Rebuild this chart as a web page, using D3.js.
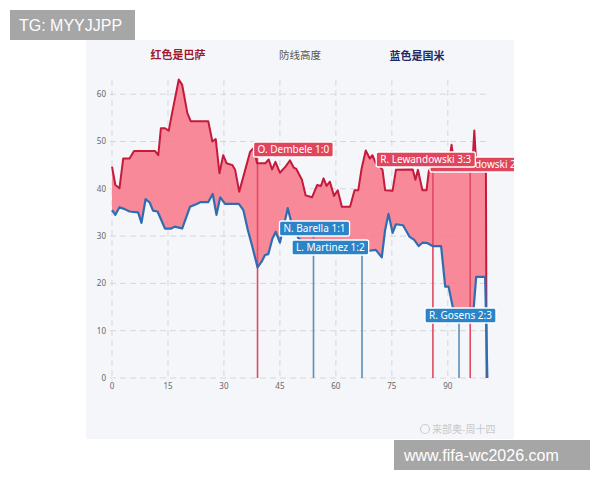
<!DOCTYPE html>
<html><head><meta charset="utf-8">
<script src="https://cdn.jsdelivr.net/npm/d3@7"></script>
<style>
html,body{margin:0;padding:0;background:#fff;}
svg{display:block;font-family:"Noto Sans","Open Sans",sans-serif;}
</style></head>
<body><svg id="c" width="600" height="480"></svg>
<script>
// ---- data ----
const titleLeft = "红色是巴萨";
const titleMid = "防线高度";
const titleRight = "蓝色是国米";
const xTicks = [0, 15, 30, 45, 60, 75, 90];
const yTicks = [0, 10, 20, 30, 40, 50, 60];
// Barcelona defensive line height [minute, value]
const barcaLine = [[0,44.7],[0.9,40.8],[2,40.1],[3,46.4],[4.7,46.4],[5.9,48],[11.5,48],[12.4,47.1],[13.1,52.8],[14.2,52.8],[15.2,52.3],[16.1,56],[17.9,63.1],[18.8,62],[20.2,56],[21.1,54.3],[25.8,54.3],[26.9,50],[27.8,50.5],[28.8,43.3],[29.8,47.1],[30.7,45.4],[32.3,45],[33,44],[34.1,39.4],[35.7,44],[37,47.8],[37.9,48.6],[38.9,45.4],[41.1,45.4],[42,46.2],[42.9,44.1],[43.8,45.7],[45,43.4],[46.5,44.7],[47.7,46],[48.7,44.5],[49.4,44.2],[50.9,41.9],[51.9,38.6],[53.6,38.2],[55,40.8],[56,40.6],[56.7,42.2],[57.5,40.6],[58.4,41.5],[59.5,38.5],[60.5,39.7],[61.6,36.2],[63.8,36.2],[65,39.7],[66,39.7],[66.9,44.3],[68,48.1],[69.1,46.4],[69.8,47.1],[70.7,45.4],[71.5,45],[72.5,44],[73.2,39.7],[75.2,39.6],[76.1,44],[80.6,44.1],[81.3,41.9],[82,44],[83.2,39.7],[84.3,39.7],[84.9,43.7],[86,45.3],[90.3,45.3],[91,49.3],[91.7,45.3],[96.6,45.3],[97.1,52.3],[97.6,45.3],[100.2,45.3],[100.4,0]];
// Inter defensive line height [minute, value]
const interLine = [[0,35.5],[0.9,34.5],[2,36.1],[3.4,35.7],[4.7,35.2],[7,35],[7.9,32.8],[9,37.8],[10.1,37.1],[11,35.4],[12.2,35.2],[14.2,31.6],[15.9,31.6],[16.8,32],[17.9,31.8],[18.8,31.6],[20.9,36.2],[22.7,36.8],[23.8,37.2],[25.8,37.2],[27,38.9],[28,34.5],[29,38.2],[30.3,36.8],[34,36.8],[35.2,35.5],[36.4,31.3],[37.6,27.8],[39,23.4],[40.1,24.6],[41,26],[41.9,26.2],[43,29.5],[43.9,30.9],[45,28.6],[46.2,32.7],[47.1,35.9],[47.9,33.4],[50,29.5],[53,28],[56,28.2],[60,26.8],[63,26.3],[66,26.6],[68,26.4],[68.9,26.9],[70.7,27.1],[72.3,25.5],[73.2,31.3],[74.1,34.7],[75.2,30.7],[76.1,32.5],[78,32.3],[79.7,29.9],[81,29.2],[82.2,27.9],[83.2,28.6],[84.6,28.5],[85.9,27.9],[88.2,27.9],[89.3,19.3],[90.2,19.3],[91.3,15.1],[92,13.5],[96.8,13.5],[97.6,21.4],[100,21.4],[100.6,0]];
// goal events (the first label is mostly hidden behind the last one; only its visible part is written)
const eventMinutes = [86, 39, 54, 67, 93, 96];
const eventTeams   = ["barca","barca","inter","inter","inter","barca"];
const eventLabels  = ["dowski 2","O. Dembele 1:0","N. Barella 1:1","L. Martinez 1:2","R. Gosens 2:3","R. Lewandowski 3:3"];

// ---- layout / style ----
// dx: box left relative to event line; top: box top px; tx: text offset inside box
const labelLayout = [{dx:-3,top:157,tx:45,w:100},{dx:-4,top:142},{dx:-34,top:221},{dx:-70,top:240},{dx:-34,top:308},{dx:-94,top:152}];
const C = {
  fill:"#f67f8f", barca:"#c41a3c", inter:"#2f6cb2",
  barcaEvt:"#e04a62", interEvt:"#5b8fbd",
  barcaBox:"#e0455d", interBox:"#2b84c8",
  grid:"#d4d8de", tick:"#666"
};

const svg = d3.select("#c");
// watermark boxes
svg.append("rect").attr("x",10).attr("y",10).attr("width",125).attr("height",30).attr("fill","#a6a6a6");
svg.append("text").attr("x",19).attr("y",31).attr("fill","#fff").attr("font-size",16)
  .style("font-family","'Liberation Sans',Arial,sans-serif").text("TG: MYYJJPP");

// panel
svg.append("rect").attr("x",86).attr("y",40).attr("width",428).attr("height",399).attr("fill","#f4f6f9");
svg.append("clipPath").attr("id","panel").append("rect").attr("x",86).attr("y",40).attr("width",428).attr("height",399);

const x = d3.scaleLinear().domain([0,100.5]).range([112,487]);
const y = d3.scaleLinear().domain([0,63]).range([378,80]);

const g = svg.append("g").attr("clip-path","url(#panel)");

// titles
g.append("text").attr("x",178).attr("y",59).attr("text-anchor","middle").attr("font-size",11)
  .attr("font-weight","bold").attr("fill","#9e1a30").style("font-family","'Noto Sans CJK SC',sans-serif").text(titleLeft);
g.append("text").attr("x",300).attr("y",59).attr("text-anchor","middle").attr("font-size",10.5)
  .attr("fill","#555").style("font-family","'Noto Sans CJK SC',sans-serif").text(titleMid);
g.append("text").attr("x",417).attr("y",60).attr("text-anchor","middle").attr("font-size",11)
  .attr("font-weight","bold").attr("fill","#1e2a66").style("font-family","'Noto Sans CJK SC',sans-serif").text(titleRight);

// grid
g.append("g").selectAll("line").data(yTicks).join("line")
  .attr("x1",110).attr("x2",487).attr("y1",d=>y(d)).attr("y2",d=>y(d))
  .attr("stroke",C.grid).attr("stroke-width",1).attr("stroke-dasharray","6,4");
g.append("g").selectAll("line").data(xTicks).join("line")
  .attr("x1",d=>x(d)).attr("x2",d=>x(d)).attr("y1",y(63)).attr("y2",y(0)+3)
  .attr("stroke",C.grid).attr("stroke-width",1).attr("stroke-dasharray","6,4");
// tick labels
g.append("g").selectAll("text").data(yTicks).join("text")
  .attr("x",106).attr("y",d=>y(d)+3).attr("text-anchor","end").attr("font-size",8).attr("fill",C.tick).text(d=>d);
g.append("g").selectAll("text").data(xTicks).join("text")
  .attr("x",d=>x(d)).attr("y",y(0)+11).attr("text-anchor","middle").attr("font-size",8).attr("fill",C.tick).text(d=>d);

// fill between lines
const poly = barcaLine.concat(interLine.slice().reverse());
g.append("path").attr("d", d3.line().x(d=>x(d[0])).y(d=>y(d[1]))(poly)+"Z")
  .attr("fill",C.fill).attr("opacity",0.92);

// event lines
const events = eventMinutes.map((m,i)=>({m, team:eventTeams[i], text:eventLabels[i], lay:labelLayout[i]}));
g.append("g").selectAll("line").data(events).join("line")
  .attr("x1",d=>x(d.m)).attr("x2",d=>x(d.m)).attr("y1",y(0)).attr("y2",d=>d.lay.top+14)
  .attr("stroke",d=>d.team==="barca"?C.barcaEvt:C.interEvt).attr("stroke-width",1.6);

// series lines
const line = d3.line().x(d=>x(d[0])).y(d=>y(d[1]));
g.append("path").attr("d",line(barcaLine)).attr("fill","none").attr("stroke",C.barca).attr("stroke-width",2).attr("stroke-linejoin","round");
g.append("path").attr("d",line(interLine)).attr("fill","none").attr("stroke",C.inter).attr("stroke-width",2.2).attr("stroke-linejoin","round");

// labels
events.forEach(d=>{
  const lg = g.append("g");
  const lx = x(d.m)+d.lay.dx;
  const tx = d.lay.tx || 4;
  const t = lg.append("text").attr("x",lx+tx).attr("y",d.lay.top+11.2).attr("font-size",10)
    .attr("fill","#fff").text(d.text);
  const w = d.lay.w || t.node().getComputedTextLength()+8;
  lg.insert("rect","text").attr("x",lx).attr("y",d.lay.top).attr("width",w).attr("height",15)
    .attr("rx",2).attr("fill",d.team==="barca"?C.barcaBox:C.interBox)
    .attr("stroke","#fff").attr("stroke-width",1.3);
});

// weibo watermark
g.append("circle").attr("cx",425).attr("cy",429).attr("r",4.5).attr("fill","none").attr("stroke","#cfcfcf").attr("stroke-width",1.2);
g.append("text").attr("x",432).attr("y",433).attr("font-size",10).attr("fill","#c8c8c8")
  .style("font-family","'Noto Sans CJK SC',sans-serif").text("来部奥-周十四");

svg.append("rect").attr("x",394).attr("y",440).attr("width",196).attr("height",30).attr("fill","#a6a6a6");
svg.append("text").attr("x",404).attr("y",461).attr("fill","#fff").attr("font-size",16)
  .style("font-family","'Liberation Sans',Arial,sans-serif").text("www.fifa-wc2026.com");
</script></body></html>
